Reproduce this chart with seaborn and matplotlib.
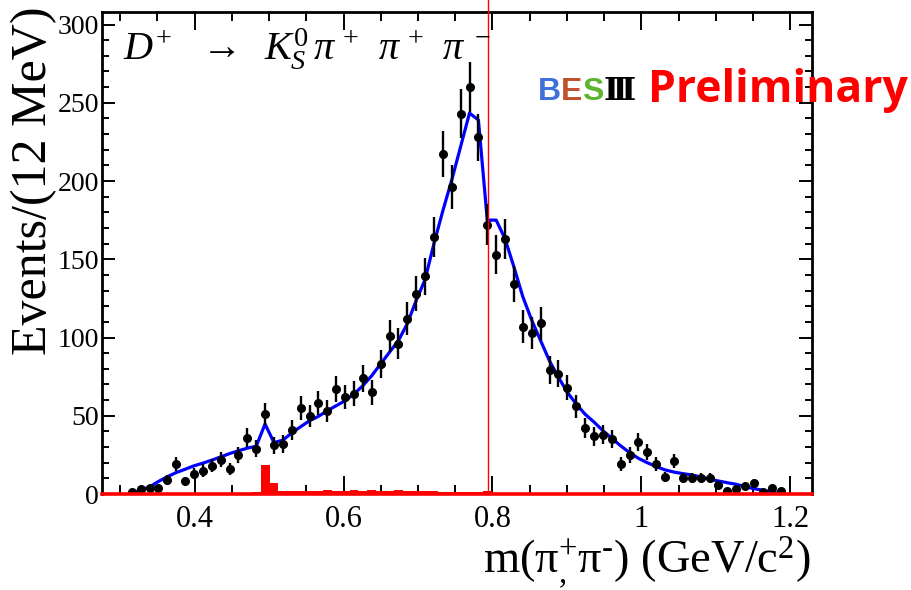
import numpy as np
import pandas as pd
import matplotlib
matplotlib.use("Agg")
import matplotlib.pyplot as plt
import seaborn as sns
from matplotlib.ticker import MultipleLocator

# ---------------- data ----------------
mass = np.linspace(0.3157, 1.1868, 74)   # bin centres, GeV/c^2 (12 MeV bins)

counts = [1, 3, 4, 4, 9, 19, 8, 13, 15, 18,
          22, 16, 25, 36, 29, 51, 31, 32, 41, 55,
          50, 58, 53, 67, 62, 64, 74, 65, 83, 101,
          96, 112, 128, 139, 164, 217, 196, 243, 260, 228,
          172, 153, 163, 134, 107, 103, 109, 79, 77, 68,
          56, 42, 37, 38, 35, 19, 25, 33, 27, 19,
          11, 21, 10, 10, 10, 10, 6, 2, 3, 5,
          7, 1, 4, 2]

fit = [0.5, 2.5, 4.5, 8, 11, 13.7, 15.8, 18, 19.7, 21.6,
       23.7, 25.8, 27.6, 29.3, 30.5, 44.7, 32.9, 34.4, 39, 43,
       46.8, 49.6, 53.2, 56.4, 59.6, 63.9, 69.2, 75.6, 83.1, 90.6,
       98, 108.8, 123.7, 137, 160, 181, 200.6, 222, 243.4, 239,
       175, 175, 163, 145, 126, 111, 98, 85, 74.6, 65,
       57.5, 51, 46, 40.5, 35.6, 30.8, 26.5, 22.8, 20, 17.5,
       15.4, 14, 13, 12.2, 10.9, 9.4, 8.3, 7.2, 6.2, 4.7,
       3.4, 2.4, 1.3, 0.2]

background = [0] * 13 + [0.8, 1.3, 18.6, 6.8, 1.8, 1.8, 1.8, 1.8, 1.8, 2.6,
                         1.8, 1.8, 2.6, 1.8, 2.6, 1.8, 1.8, 2.8, 1.8, 1.8,
                         1.6, 1.6, 1.5, 1.5, 1.5, 1.5, 1.5, 2.0] + [0] * 33

cut_mass = 0.794

xtick_vals = [0.4, 0.6, 0.8, 1.0, 1.2]
xtick_labels = ["0.4", "0.6", "0.8", "1", "1.2"]
ytick_vals = [0, 50, 100, 150, 200, 250, 300]

df = pd.DataFrame({"mass": mass, "counts": counts, "fit": fit, "bkg": background})

# ---------------- style ----------------
sns.set_style("ticks")
plt.rcParams["font.family"] = ["Liberation Serif", "DejaVu Serif"]
plt.rcParams["mathtext.fontset"] = "custom"
plt.rcParams["mathtext.rm"] = "Liberation Serif"
plt.rcParams["mathtext.it"] = "Liberation Serif:italic"
plt.rcParams["mathtext.bf"] = "Liberation Serif:bold"
for key in ["text.color", "axes.labelcolor", "xtick.color", "ytick.color"]:
    plt.rcParams[key] = "black"

fig = plt.figure(figsize=(9.12, 5.9), dpi=100)
ax = fig.add_axes([102 / 912, 96 / 590, 710 / 912, 482 / 590])

# background histogram (red)
w = mass[1] - mass[0]
edges = np.append(mass - w / 2, mass[-1] + w / 2)
ax.stairs(df["bkg"].to_numpy(), edges, fill=True, color="red", linewidth=0, zorder=1)

# fit curve (blue)
sns.lineplot(data=df, x="mass", y="fit", color="blue", linewidth=2.3, ax=ax, zorder=3)

# data points
ax.errorbar(df["mass"], df["counts"], yerr=np.sqrt(df["counts"]), fmt="o", color="black",
            markersize=5.5, elinewidth=1.7, capsize=0, zorder=4)

# cut line
ax.axvline(cut_mass, ymin=0, ymax=1.027, color="red", linewidth=1.0,
           clip_on=False, zorder=6)

ax.set_xlim(0.2758, 1.2289)
ax.set_ylim(0, 308)

ax.set_xticks(xtick_vals, labels=xtick_labels)
ax.set_yticks(ytick_vals)
ax.xaxis.set_minor_locator(MultipleLocator(0.05))
ax.yaxis.set_minor_locator(MultipleLocator(10))

ax.tick_params(axis="both", which="both", direction="in", top=True, right=True,
               color="black", width=1.4)
ax.tick_params(axis="x", which="major", length=13, labelsize=22, pad=8)
ax.tick_params(axis="x", which="minor", length=6.5)
ax.tick_params(axis="y", which="major", length=9.5, labelsize=20, pad=2)
ax.tick_params(axis="y", which="minor", length=5)

for side in ["top", "left", "right"]:
    ax.spines[side].set_linewidth(2.0)
    ax.spines[side].set_color("black")
ax.spines["bottom"].set_linewidth(2.6)
ax.spines["bottom"].set_color("red")
ax.spines["bottom"].set_zorder(5)

ax.set_ylabel("Events/(12 MeV)", fontsize=36)
ax.yaxis.set_label_coords(-0.063, 0.649)
ax.set_xlabel(r"m(π$^{+}_{,}$π$^{\text{-}}$) (GeV/c$^{2}$)", fontsize=33.5, ha="right")
ax.xaxis.set_label_coords(0.998, -0.084)

# process title
ax.text(0.0296, 0.900,
        r"$D^{+}\ \ \,\rightarrow\ \:K_{S}^{0}\,\pi^{\,+}\ \,\pi^{\,+}\ \,\pi^{\;-}$",
        transform=ax.transAxes, fontsize=29, ha="left", va="baseline", zorder=7)

# BESIII Preliminary logo
logo_base = (590 - 100) / 590
logo_font = "Liberation Sans"
tB = fig.text(538 / 912, logo_base, "B", color="#3f6fd9", fontsize=23,
              family=logo_font, weight="bold", va="baseline")
tE = ax.annotate("E", xy=(1, 0), xycoords=tB, color="#c0502c", fontsize=23,
                 family=logo_font, weight="bold", ha="left", va="bottom")
tS = ax.annotate("S", xy=(1, 0), xycoords=tE, color="#5cb531", fontsize=23,
                 family=logo_font, weight="bold", ha="left", va="bottom")
ax.annotate("Ⅲ", xy=(1, 0), xycoords=tS, color="black", fontsize=23,
            family=["DejaVu Serif", "DejaVu Sans"], weight="bold",
            ha="left", va="bottom")
fig.text(648 / 912, (590 - 102) / 590, "Preliminary", color="#ff0000", fontsize=32,
         family="Open Sans", weight="bold", va="baseline")

fig.savefig("out.png", dpi=100)
